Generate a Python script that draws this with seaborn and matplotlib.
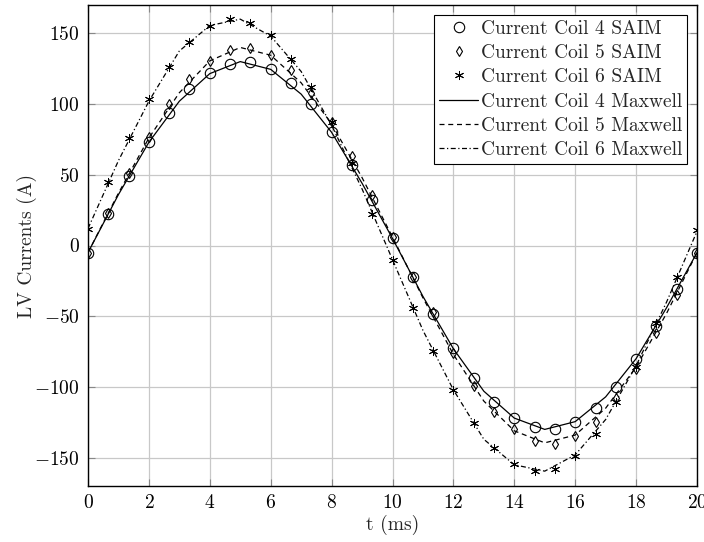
import numpy as np
import pandas as pd
import seaborn as sns
import matplotlib
matplotlib.use("Agg")
import matplotlib.pyplot as plt

# ---- data ----
t_saim = [0.0, 0.667, 1.333, 2.0, 2.667, 3.333, 4.0, 4.667, 5.333, 6.0, 6.667,
          7.333, 8.0, 8.667, 9.333, 10.0, 10.667, 11.333, 12.0, 12.667, 13.333,
          14.0, 14.667, 15.333, 16.0, 16.667, 17.333, 18.0, 18.667, 19.333, 20.0]
coil4_saim = [-5, 22.5, 49, 73, 94, 110.5, 122, 128.5, 130, 125, 115,
              100, 80, 57, 32, 5, -22.5, -48.5, -72.5, -94, -110.5,
              -122, -128.5, -130, -125, -115, -100, -80, -57, -31, -5]
coil5_saim = [-5, 23, 51, 77, 100, 117.5, 130.5, 138, 139.5, 135, 124,
              107.5, 87, 63, 35.5, 6, -22.5, -47, -76, -99, -118,
              -130, -138, -140, -135, -125, -108, -87, -62, -35, -5]
coil6_saim = [12, 45, 76, 103.5, 126.5, 144, 155.5, 160, 157.5, 148.5, 132,
              112, 87, 58, 22.5, -10.5, -44, -74.5, -102, -125.5, -143,
              -154.5, -159.5, -158, -148.5, -133, -110.5, -86, -54.5, -22, 11]

t_maxwell = list(range(0, 21))
coil4_maxwell = [-5, 36, 73, 102, 121.5, 130, 124.5, 107, 80, 44, 5,
                 -36, -73, -103, -122, -130, -124.5, -107, -80, -44, -5]
coil5_maxwell = [-5, 37, 76, 108, 130.5, 140, 134.5, 115, 86, 48, 6,
                 -37, -77, -110, -131, -139.5, -134, -115, -86, -48, -5]
coil6_maxwell = [12, 60, 102, 137.5, 155.5, 160, 148, 123, 85, 40, -10,
                 -60, -102, -137, -155, -159.5, -148, -123, -85, -40, 10]

labels_saim = ["Current Coil 4 SAIM", "Current Coil 5 SAIM", "Current Coil 6 SAIM"]
labels_maxwell = ["Current Coil 4 Maxwell", "Current Coil 5 Maxwell", "Current Coil 6 Maxwell"]
x_ticks = [0, 2, 4, 6, 8, 10, 12, 14, 16, 18, 20]
y_ticks = [-150, -100, -50, 0, 50, 100, 150]

# ---- style ----
sns.set_theme(style="whitegrid")
plt.rcParams["font.family"] = ["cmr10", "DejaVu Sans"]
plt.rcParams["mathtext.fontset"] = "cm"
plt.rcParams["axes.formatter.use_mathtext"] = True
plt.rcParams["axes.unicode_minus"] = True

fig = plt.figure(figsize=(7.04, 5.42), dpi=100)
ax = fig.add_axes([88 / 704, 56 / 542, (697 - 88) / 704, (486 - 5) / 542])

saim_df = pd.DataFrame({
    "t": t_saim * 3,
    "I": coil4_saim + coil5_saim + coil6_saim,
    "s": sum([[l] * len(t_saim) for l in labels_saim], []),
})
max_df = pd.DataFrame({
    "t": t_maxwell * 3,
    "I": coil4_maxwell + coil5_maxwell + coil6_maxwell,
    "s": sum([[l] * len(t_maxwell) for l in labels_maxwell], []),
})

markers = ["o", "d", (6, 2, 0)]
msizes = [7.5, 5.5, 6.5]
mews = [0.8, 0.8, 0.7]
for lab, mk, ms, mw in zip(labels_saim, markers, msizes, mews):
    sub = saim_df[saim_df["s"] == lab]
    sns.lineplot(data=sub, x="t", y="I", ax=ax, linestyle="none", marker=mk,
                 markersize=ms, markerfacecolor="none", markeredgecolor="black",
                 markeredgewidth=mw, color="black", label=lab)

styles = ["-", (0, (4, 3)), (0, (4, 2, 1, 2))]
for lab, ls in zip(labels_maxwell, styles):
    sub = max_df[max_df["s"] == lab]
    sns.lineplot(data=sub, x="t", y="I", ax=ax, color="black", linewidth=0.9,
                 linestyle=ls, label=lab)

ax.set_xlim(0, 20)
ax.set_ylim(-170, 170)
ax.set_xticks(x_ticks)
ax.set_yticks(y_ticks)
ax.grid(True, color="#c8c8c8", linewidth=0.9)
for sp in ax.spines.values():
    sp.set_color("black")
    sp.set_linewidth(1.0)
ax.tick_params(direction="in", length=5, width=0.8, color="#888888",
               top=True, right=True, bottom=True, left=True,
               labelsize=14, labelcolor="black")
ax.tick_params(axis="x", pad=6)
ax.tick_params(axis="y", pad=6)
ax.set_xlabel("t (ms)", fontsize=14, labelpad=2)
ax.set_ylabel("LV Currents (A)", fontsize=14, labelpad=-2)

handles, labs = ax.get_legend_handles_labels()
leg = ax.legend(handles, labs, loc="upper right", fontsize=14, frameon=True,
                fancybox=False, framealpha=1, edgecolor="black",
                handlelength=2.0, handletextpad=0.15, labelspacing=0.33,
                borderpad=0.25, borderaxespad=0.5)
leg.get_frame().set_linewidth(0.8)

fig.savefig("out.png", dpi=100)
